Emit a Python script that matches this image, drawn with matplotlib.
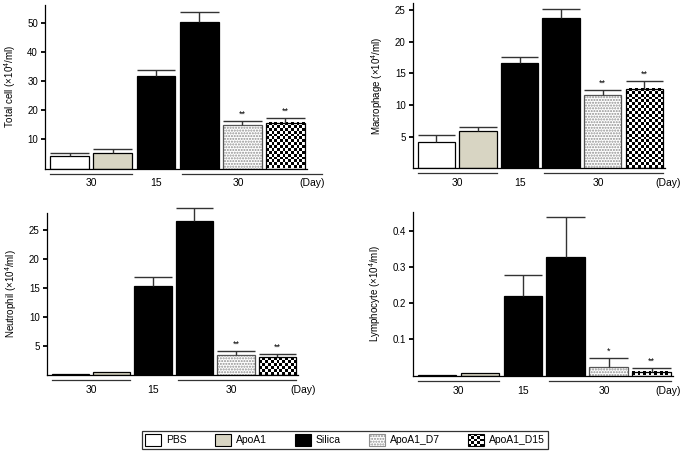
import numpy as np
import matplotlib
matplotlib.use("Agg")
import matplotlib.pyplot as plt
from matplotlib.patches import Patch, Rectangle
from matplotlib.legend_handler import HandlerBase
from matplotlib import transforms

plt.rcParams["font.family"] = ["Liberation Sans", "DejaVu Sans"]

# --- data ---
groups = ["PBS", "ApoA1", "Silica", "ApoA1_D7", "ApoA1_D15"]
bar_group = ["PBS", "ApoA1", "Silica", "Silica", "ApoA1_D7", "ApoA1_D15"]

total_mean = [4.3, 5.4, 31.8, 50.3, 14.9, 15.5]
total_err = [0.9, 1.3, 1.9, 3.4, 1.4, 1.7]
total_star = ["", "", "", "", "**", "**"]

macro_mean = [4.2, 5.9, 16.6, 23.7, 11.5, 12.5]
macro_err = [1.1, 0.6, 0.9, 1.5, 0.9, 1.3]
macro_star = ["", "", "", "", "**", "**"]

neut_mean = [0.05, 0.5, 15.3, 26.6, 3.4, 3.1]
neut_err = [0.0, 0.0, 1.6, 2.2, 0.7, 0.5]
neut_star = ["", "", "", "", "**", "**"]

lymph_mean = [0.001, 0.008, 0.22, 0.326, 0.023, 0.011]
lymph_err = [0.0, 0.0, 0.058, 0.112, 0.025, 0.010]
lymph_star = ["", "", "", "", "*", "**"]

day_labels = ["30", "15", "30", "(Day)"]

W, H = 686, 455
fig = plt.figure(figsize=(W / 100, H / 100), dpi=100)

colors = {"PBS": "white", "ApoA1": "#d8d5c3", "Silica": "black"}
WIDTH = 0.9
XLIM = (-0.57, 5.5)


def checker(n_rows, n_cols):
    i, j = np.indices((n_rows, n_cols))
    return ((i + j) % 2).astype(float)


def panel(box, mean, err, star, ylabel, ylim, yticks, ytlabels, line_end=5.45, day_x=5.6):
    left, top, right, bottom = box
    ax = fig.add_axes([left / W, 1 - bottom / H, (right - left) / W, (bottom - top) / H])
    px_x = (right - left) / (XLIM[1] - XLIM[0])
    px_y = (bottom - top) / (ylim[1] - ylim[0])
    x = np.arange(len(mean))
    for xi, m, g in zip(x, mean, bar_group):
        if g in colors:
            ax.bar(xi, m, WIDTH, color=colors[g], edgecolor="black", linewidth=0.9)
        elif g == "ApoA1_D7":
            ax.bar(xi, m, WIDTH, color="white", edgecolor="#909090", hatch="......", linewidth=0)
            ax.bar(xi, m, WIDTH, color="none", edgecolor="#555555", linewidth=0.9)
        else:
            cell = 2.8
            nc = max(1, int(round(WIDTH * px_x / cell)))
            nr = max(1, int(round(m * px_y / cell)))
            ax.imshow(checker(nr, nc), cmap="gray", vmin=0, vmax=1, aspect="auto",
                      interpolation="nearest", origin="lower",
                      extent=(xi - WIDTH / 2, xi + WIDTH / 2, 0, m))
            ax.bar(xi, m, WIDTH, color="none", edgecolor="black", linewidth=0.9)
    for xi, m, e, s in zip(x, mean, err, star):
        if e > 0:
            ax.vlines(xi, m, m + e, color="#333333", linewidth=1, clip_on=False)
            ax.hlines(m + e, xi - WIDTH / 2, xi + WIDTH / 2, color="#333333", linewidth=1,
                      clip_on=False)
        if s:
            ax.annotate(s, (xi, m + e), xytext=(0, 1.5), textcoords="offset points",
                        ha="center", va="bottom", fontsize=6.5)
    ax.set_xlim(*XLIM)
    ax.set_ylim(*ylim)
    ax.set_yticks(yticks)
    ax.set_yticklabels(ytlabels)
    ax.set_xticks([])
    ax.tick_params(axis="y", direction="out", length=3, width=1.3, labelsize=7, pad=2)
    for sp in ["top", "right"]:
        ax.spines[sp].set_visible(False)
    for sp in ["left", "bottom"]:
        ax.spines[sp].set_linewidth(0.9)
    ax.set_ylabel(ylabel, fontsize=7, labelpad=7)

    # day annotation under the axis
    tr = transforms.blended_transform_factory(ax.transData, ax.transAxes)
    line_tr = tr + transforms.ScaledTranslation(0, -5 / 100, fig.dpi_scale_trans)
    ax.plot([-0.45, 1.45], [0, 0], color="#333333", lw=0.9, transform=line_tr, clip_on=False)
    ax.plot([2.6, line_end], [0, 0], color="#333333", lw=0.9, transform=line_tr, clip_on=False)
    for pos, lab in zip([0.5, 2.0, 3.9, day_x], day_labels):
        ax.annotate(lab, (pos, 0), xycoords=tr, xytext=(0, -15), textcoords="offset pixels",
                    ha="center", va="center", fontsize=7.5)
    return ax


sup4 = r"$^\mathregular{4}$"
panel((45, 5, 307, 168.5), total_mean, total_err, total_star,
      "Total cell (×10" + sup4 + "/ml)", (0, 56), [10, 20, 30, 40, 50],
      ["10", "20", "30", "40", "50"], line_end=5.85, day_x=5.62)
panel((412.7, 3, 665, 168.3), macro_mean, macro_err, macro_star,
      "Macrophage (×10" + sup4 + "/ml)", (0, 26.1), [5, 10, 15, 20, 25],
      ["5", "10", "15", "20", "25"], day_x=5.57)
panel((46.7, 213.3, 298, 374.6), neut_mean, neut_err, neut_star,
      "Neutrophil (×10" + sup4 + "/ml)", (0, 27.9), [5, 10, 15, 20, 25],
      ["5", "10", "15", "20", "25"], day_x=5.62)
panel((412.7, 211.7, 673, 375.5), lymph_mean, lymph_err, lymph_star,
      "Lymphocyte (×10" + sup4 + "/ml)", (0, 0.452), [0.1, 0.2, 0.3, 0.4],
      ["0.1", "0.2", "0.3", "0.4"], day_x=5.38)


class CheckerHandler(HandlerBase):
    def create_artists(self, legend, orig_handle, xdescent, ydescent, width, height, fontsize, trans):
        n = 5
        x0, y0 = -xdescent, -ydescent
        arts = [Rectangle((x0, y0), width, height, facecolor="white", edgecolor="black",
                          linewidth=0.8, transform=trans)]
        cw, ch = width / n, height / n
        for i in range(n):
            for j in range(n):
                if (i + j) % 2 == 0:
                    arts.append(Rectangle((x0 + i * cw, y0 + j * ch), cw, ch, facecolor="black",
                                          linewidth=0, transform=trans))
        return arts


handles = [
    Patch(facecolor="white", edgecolor="black", linewidth=0.8),
    Patch(facecolor=colors["ApoA1"], edgecolor="black", linewidth=0.8),
    Patch(facecolor="black", edgecolor="black", linewidth=0.8),
    Patch(facecolor="white", edgecolor="#909090", hatch="......", linewidth=0.8),
    Patch(facecolor="white", edgecolor="black"),
]
leg = fig.legend(handles, groups, ncol=5, loc="center",
                 bbox_to_anchor=((142 + 548) / 2 / W, 1 - 440 / H),
                 frameon=True, fancybox=False, edgecolor="black", fontsize=7.5,
                 handlelength=1.5, handleheight=1.5, handletextpad=0.5,
                 columnspacing=2.7, borderpad=0.3,
                 handler_map={handles[4]: CheckerHandler()})
leg.get_frame().set_linewidth(0.9)

fig.savefig("out.png", dpi=100)
